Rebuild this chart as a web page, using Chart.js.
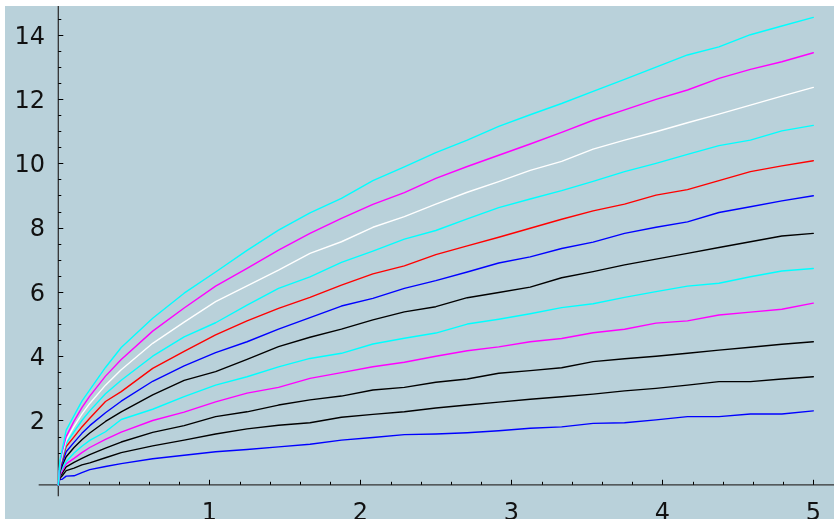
<!DOCTYPE html>
<html>
<head>
<meta charset="utf-8">
<script src="https://cdn.jsdelivr.net/npm/chart.js@4/dist/chart.umd.min.js"></script>
<style>
  html, body { margin: 0; padding: 0; background: #ffffff; }
  #wrap { width: 834px; height: 519px; }
</style>
</head>
<body>
<div id="wrap"><canvas id="c" width="834" height="519"></canvas></div>
<script>
// sample positions along the horizontal axis
const xValues = [0, 0.0104, 0.026, 0.0521, 0.1042, 0.1563, 0.2083, 0.3125, 0.4167, 0.625, 0.8333,
  1.0417, 1.25, 1.4583, 1.6667, 1.875, 2.0833, 2.2917, 2.5, 2.7083, 2.9167, 3.125, 3.3333,
  3.5417, 3.75, 3.9583, 4.1667, 4.375, 4.5833, 4.7917, 5];

// curves, from the highest to the lowest
const curve1 = [0, 0.75, 1.1, 1.70, 2.15, 2.6, 2.95, 3.65, 4.27, 5.18, 5.96, 6.62, 7.29, 7.92, 8.46, 8.91, 9.46, 9.89, 10.33, 10.72, 11.15, 11.51, 11.86, 12.24, 12.61, 12.99, 13.37, 13.62, 14.0, 14.27, 14.54];
const curve2 = [0, 0.69, 1.02, 1.50, 1.98, 2.40, 2.76, 3.38, 3.90, 4.78, 5.50, 6.18, 6.73, 7.30, 7.82, 8.29, 8.72, 9.09, 9.53, 9.90, 10.25, 10.60, 10.96, 11.34, 11.66, 11.99, 12.28, 12.64, 12.92, 13.16, 13.44];
const curve3 = [0, 0.63, 0.94, 1.39, 1.82, 2.20, 2.53, 3.10, 3.58, 4.40, 5.06, 5.70, 6.19, 6.68, 7.20, 7.56, 8.01, 8.34, 8.73, 9.10, 9.43, 9.78, 10.06, 10.44, 10.72, 10.98, 11.26, 11.53, 11.81, 12.09, 12.36];
const curve4 = [0, 0.58, 0.85, 1.29, 1.65, 2.0, 2.30, 2.83, 3.25, 4.0, 4.60, 5.04, 5.59, 6.11, 6.47, 6.92, 7.27, 7.64, 7.91, 8.27, 8.62, 8.89, 9.15, 9.44, 9.74, 10.0, 10.28, 10.55, 10.72, 11.01, 11.18];
const curve5 = [0, 0.52, 0.77, 1.19, 1.49, 1.80, 2.07, 2.59, 2.90, 3.62, 4.15, 4.66, 5.10, 5.49, 5.83, 6.21, 6.56, 6.81, 7.16, 7.43, 7.70, 7.98, 8.26, 8.52, 8.73, 9.01, 9.18, 9.46, 9.74, 9.92, 10.08];
const curve6 = [0, 0.46, 0.68, 1.03, 1.32, 1.60, 1.84, 2.24, 2.60, 3.22, 3.70, 4.11, 4.45, 4.84, 5.20, 5.56, 5.80, 6.11, 6.35, 6.62, 6.90, 7.09, 7.35, 7.55, 7.82, 8.01, 8.18, 8.47, 8.65, 8.83, 8.99];
const curve7 = [0, 0.40, 0.60, 0.87, 1.16, 1.40, 1.61, 1.97, 2.27, 2.80, 3.25, 3.52, 3.90, 4.30, 4.59, 4.84, 5.13, 5.38, 5.54, 5.82, 5.98, 6.15, 6.44, 6.63, 6.84, 7.02, 7.20, 7.38, 7.56, 7.74, 7.82];
const curve8 = [0, 0.35, 0.51, 0.72, 0.99, 1.20, 1.38, 1.65, 2.03, 2.35, 2.74, 3.10, 3.36, 3.67, 3.93, 4.09, 4.38, 4.56, 4.72, 5.00, 5.15, 5.32, 5.51, 5.63, 5.83, 6.01, 6.18, 6.27, 6.47, 6.65, 6.73];
const curve9 = [0, 0.29, 0.43, 0.65, 0.82, 1.0, 1.16, 1.41, 1.64, 2.00, 2.26, 2.58, 2.85, 3.03, 3.31, 3.49, 3.67, 3.81, 4.0, 4.17, 4.29, 4.45, 4.55, 4.73, 4.84, 5.03, 5.10, 5.28, 5.37, 5.46, 5.65];
const curve10 = [0, 0.25, 0.36, 0.56, 0.70, 0.82, 0.94, 1.14, 1.33, 1.63, 1.84, 2.12, 2.27, 2.48, 2.64, 2.76, 2.95, 3.03, 3.19, 3.29, 3.47, 3.55, 3.64, 3.83, 3.92, 4.00, 4.09, 4.19, 4.28, 4.37, 4.45];
const curve11 = [0, 0.20, 0.28, 0.44, 0.52, 0.62, 0.68, 0.84, 1.0, 1.21, 1.39, 1.58, 1.74, 1.85, 1.93, 2.10, 2.19, 2.27, 2.39, 2.48, 2.57, 2.66, 2.74, 2.82, 2.92, 3.00, 3.10, 3.21, 3.21, 3.29, 3.36];
const curve12 = [0, 0.17, 0.17, 0.27, 0.28, 0.38, 0.47, 0.57, 0.66, 0.81, 0.92, 1.03, 1.10, 1.18, 1.26, 1.39, 1.47, 1.56, 1.58, 1.62, 1.68, 1.76, 1.80, 1.91, 1.93, 2.02, 2.12, 2.12, 2.20, 2.20, 2.30];

const curveColors = ['#00ffff', '#ff00ff', '#ffffff', '#00ffff', '#ff0000', '#0000ff',
  '#000000', '#00ffff', '#ff00ff', '#000000', '#000000', '#0000ff'];

// tick labels
const xTickValues = [1, 2, 3, 4, 5];
const xTickLabels = ['1', '2', '3', '4', '5'];
const yTickValues = [2, 4, 6, 8, 10, 12, 14];
const yTickLabels = ['2', '4', '6', '8', '10', '12', '14'];

const allCurves = [curve1, curve2, curve3, curve4, curve5, curve6, curve7, curve8, curve9, curve10, curve11, curve12];

const datasets = allCurves.map((vals, i) => ({
  data: vals.map((v, j) => ({ x: xValues[j], y: v })),
  borderColor: curveColors[i],
  borderWidth: 1.4,
  pointRadius: 0,
  tension: 0,
  fill: false
}));

// panel background and axes crossing at the origin
const axesPlugin = {
  id: 'originAxes',
  beforeDraw(chart) {
    const { ctx, chartArea: a } = chart;
    ctx.save();
    ctx.fillStyle = '#b9d1da';
    ctx.fillRect(a.left, a.top, a.right - a.left, a.bottom - a.top);
    ctx.restore();
  },
  beforeDatasetsDraw(chart) {
    const { ctx } = chart;
    const xs = chart.scales.x, ys = chart.scales.y;
    const x0 = xs.getPixelForValue(0);
    const y0 = ys.getPixelForValue(0);
    ctx.save();
    ctx.strokeStyle = '#333333';
    ctx.lineWidth = 1.3;
    ctx.beginPath();
    ctx.moveTo(xs.getPixelForValue(-0.13), y0);
    ctx.lineTo(chart.chartArea.right, y0);
    ctx.moveTo(x0, chart.chartArea.top);
    ctx.lineTo(x0, ys.getPixelForValue(-0.36));
    ctx.stroke();

    ctx.strokeStyle = '#000000';
    ctx.lineWidth = 1;
    ctx.beginPath();
    // horizontal axis ticks every 0.2
    for (let i = 1; i <= 25; i++) {
      const v = i * 0.2;
      const px = Math.round(xs.getPixelForValue(v)) + 0.5;
      const len = (i % 5 === 0) ? 5 : 3;
      ctx.moveTo(px, y0);
      ctx.lineTo(px, y0 - len);
    }
    // vertical axis ticks every 0.5
    for (let i = 1; i <= 29; i++) {
      const v = i * 0.5;
      const py = Math.round(ys.getPixelForValue(v)) + 0.5;
      const len = (i % 4 === 0) ? 5 : 3;
      ctx.moveTo(x0, py);
      ctx.lineTo(x0 + len, py);
    }
    ctx.stroke();

    ctx.fillStyle = '#111111';
    ctx.font = '24px "DejaVu Sans"';
    ctx.textBaseline = 'alphabetic';
    ctx.textAlign = 'right';
    yTickValues.forEach((v, i) => {
      ctx.fillText(yTickLabels[i], 45, ys.getPixelForValue(v) + 8.8);
    });
    ctx.textAlign = 'center';
    xTickValues.forEach((v, i) => {
      ctx.fillText(xTickLabels[i], xs.getPixelForValue(v), 519.5);
    });
    ctx.restore();
  }
};

new Chart(document.getElementById('c'), {
  type: 'line',
  data: { datasets },
  options: {
    responsive: false,
    animation: false,
    events: [],
    layout: { padding: { left: 5, top: 6, right: 0, bottom: 0 } },
    plugins: { legend: { display: false }, tooltip: { enabled: false } },
    scales: {
      x: { type: 'linear', display: false, min: -0.353, max: 5.137 },
      y: { type: 'linear', display: false, min: -1.064, max: 14.893 }
    },
    elements: { line: { borderCapStyle: 'round', borderJoinStyle: 'round' } }
  },
  plugins: [axesPlugin]
});
</script>
</body>
</html>
